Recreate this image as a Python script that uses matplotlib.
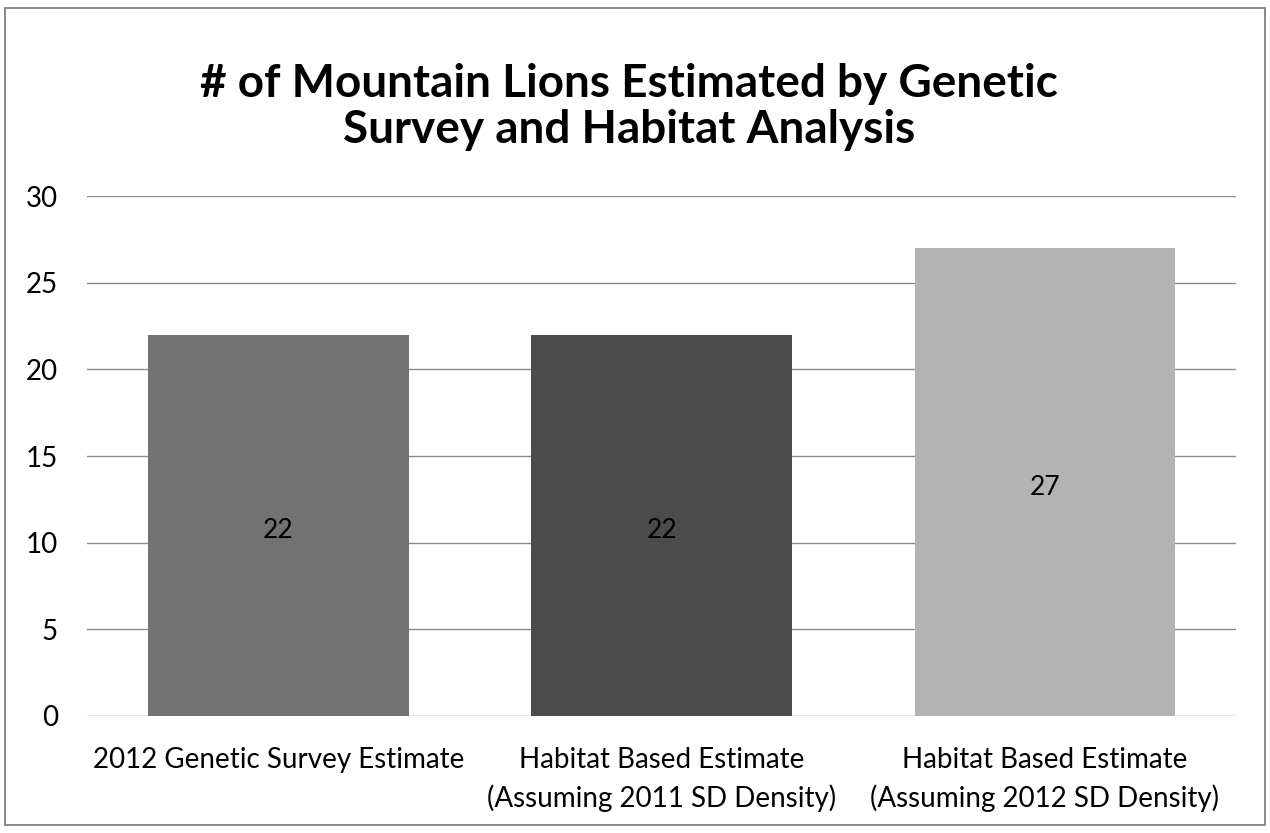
import matplotlib.pyplot as plt
from matplotlib.patches import Rectangle
import numpy as np

# data
categories = ['2012 Genetic Survey Estimate',
              'Habitat Based Estimate\n(Assuming 2011 SD Density)',
              'Habitat Based Estimate\n(Assuming 2012 SD Density)']
values = [22, 22, 27]
bar_colors = ['#727272', '#4b4b4b', '#b3b3b3']
yticks = [0, 5, 10, 15, 20, 25, 30]

plt.rcParams['font.family'] = ['Lato', 'DejaVu Sans']

fig = plt.figure(figsize=(12.7, 8.33), dpi=100)
ax = fig.add_axes([0.0685, 0.1405, 0.905, 0.624])

x = np.arange(len(categories))
bars = ax.bar(x, values, width=0.68, color=bar_colors, zorder=2)

for b, v in zip(bars, values):
    ax.text(b.get_x() + b.get_width() / 2, v / 2 - 0.3, str(v),
            ha='center', va='center', fontsize=19, color='black', zorder=3)

ax.set_xlim(-0.5, len(categories) - 0.5)
ax.set_ylim(0, 30)
ax.set_yticks(yticks)
ax.set_xticks(x)
ax.set_xticklabels(categories, fontsize=20, linespacing=1.52)
ax.tick_params(axis='y', labelsize=20, length=0, pad=21)
ax.tick_params(axis='x', length=0, pad=22)
ax.yaxis.grid(True, color='#8a8a8a', linewidth=1, zorder=0)
for s in ax.spines.values():
    s.set_visible(False)

fig.text(0.495, 0.872, '# of Mountain Lions Estimated by Genetic\nSurvey and Habitat Analysis',
         ha='center', va='center', fontsize=33, fontweight='bold', linespacing=1.12)

# outer border
fig.patches.append(Rectangle((5 / 1270, 1 - 825 / 833), 1260 / 1270, 817 / 833,
                             transform=fig.transFigure, fill=False,
                             edgecolor='#777777', linewidth=1.2))

fig.savefig('out.png', dpi=100)
